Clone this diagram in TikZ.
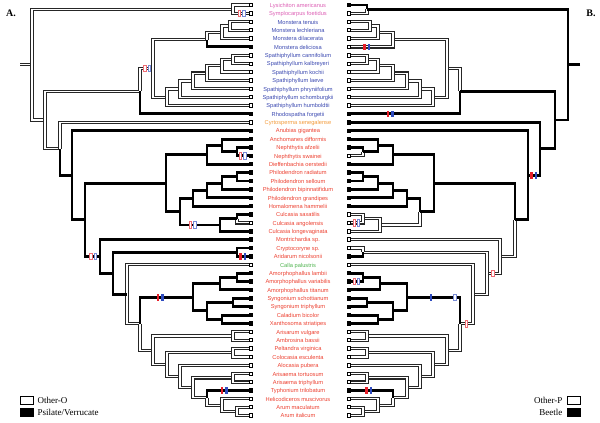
\documentclass[tikz,border=0pt]{standalone}
\usepackage{fontspec}
\setmainfont{Liberation Serif}
\newfontfamily\taxfont{Liberation Sans}
\usetikzlibrary{
    calc,
    positioning
}

\definecolor{oroncol}{HTML}{DC5FB4}
\definecolor{monscol}{HTML}{3A48B0}
\definecolor{cyrtcol}{HTML}{F29A3A}
\definecolor{arumcol}{HTML}{EC4030}
\definecolor{callcol}{HTML}{4FB34F}
\definecolor{gainred}{HTML}{E8202A}
\definecolor{gainblue}{HTML}{2F4CC0}

% one clade: prefix, name, depth, first child, second child
\newcommand{\mkclade}[5]{%
    \path ($(#1#4)!0.5!(#1#5)$) coordinate (#1#2m)
          (#3,0) coordinate (#1#2x);
    \coordinate (#1#2) at (#1#2x |- #1#2m);
}

% change marker: name, style, x, branch end
\newcommand{\chg}[4]{%
    \path (#3,0) coordinate (#1x);
    \node[#2] (#1) at (#1x |- #4) {};
}

% all tips and clades of the tree, with a prefix
\newcommand{\mktree}[1]{%
    \foreach \n [count=\i] in {lys,sym,mten,mlec,mdil,mdel,scan,skal,skoc,
        slae,sphr,ssch,shum,rho,cyr,anu,anc,nafz,nswa,die,prad,psel,pbip,
        pgra,hom,csax,cang,clon,mon,cry,ari,cal,alam,avar,atit,ssco,stri,
        cbic,xan,arisa,amb,pel,col,alo,ator,atri,typ,hel,amac,aita}
        \coordinate (#1\n) at (251,{5+(\i-1)*8.38});
    % Orontioideae
    \mkclade{#1}{orn}{233}{lys}{sym}
    % Monstera / Spathiphyllum
    \mkclade{#1}{mon1}{230}{mten}{mlec}
    \mkclade{#1}{mon2}{222}{mon1}{mdil}
    \mkclade{#1}{mon3}{207}{mon2}{mdel}
    \mkclade{#1}{spa1}{233}{scan}{skal}
    \mkclade{#1}{spa2}{222}{spa1}{skoc}
    \mkclade{#1}{spa3}{207}{spa2}{slae}
    \mkclade{#1}{spa4}{193}{spa3}{sphr}
    \mkclade{#1}{spa5}{180}{spa4}{ssch}
    \mkclade{#1}{spa6}{167}{spa5}{shum}
    \mkclade{#1}{mst}{153}{mon3}{spa6}
    \mkclade{#1}{mrh}{140}{mst}{rho}
    % Nephthytis / Philodendron / Culcasia
    \mkclade{#1}{nep}{237}{nafz}{nswa}
    \mkclade{#1}{anc1}{222}{anc}{nep}
    \mkclade{#1}{anc2}{207}{anc1}{die}
    \mkclade{#1}{phi1}{237}{prad}{psel}
    \mkclade{#1}{phi2}{222}{phi1}{pbip}
    \mkclade{#1}{phi3}{207}{phi2}{pgra}
    \mkclade{#1}{phi4}{193}{phi3}{hom}
    \mkclade{#1}{cul1}{237}{csax}{cang}
    \mkclade{#1}{cul2}{220}{cul1}{clon}
    \mkclade{#1}{phc}{180}{phi4}{cul2}
    \mkclade{#1}{anph}{166}{anc2}{phc}
    % Cryptocoryne to Arum
    \mkclade{#1}{cra}{237}{cry}{ari}
    \mkclade{#1}{amo1}{237}{alam}{avar}
    \mkclade{#1}{amo2}{220}{amo1}{atit}
    \mkclade{#1}{syn}{233}{ssco}{stri}
    \mkclade{#1}{cxa}{222}{cbic}{xan}
    \mkclade{#1}{sycx}{207}{syn}{cxa}
    \mkclade{#1}{ams}{193}{amo2}{sycx}
    \mkclade{#1}{arsa}{233}{arisa}{amb}
    \mkclade{#1}{pco}{233}{pel}{col}
    \mkclade{#1}{ars}{233}{ator}{atri}
    \mkclade{#1}{arum}{237}{amac}{aita}
    \mkclade{#1}{ahel}{222}{hel}{arum}
    \mkclade{#1}{ty1}{207}{typ}{ahel}
    \mkclade{#1}{ty2}{193}{ars}{ty1}
    \mkclade{#1}{ty3}{180}{alo}{ty2}
    \mkclade{#1}{ty4}{167}{pco}{ty3}
    \mkclade{#1}{ty5}{153}{arsa}{ty4}
    \mkclade{#1}{late}{140}{ams}{ty5}
    \mkclade{#1}{cala}{127}{cal}{late}
    \mkclade{#1}{crc}{113}{cra}{cala}
    \mkclade{#1}{mnt}{100}{mon}{crc}
    % backbone
    \mkclade{#1}{aro}{85}{anph}{mnt}
    \mkclade{#1}{anb}{72}{anu}{aro}
    \mkclade{#1}{cyn}{60}{cyr}{anb}
    \mkclade{#1}{core}{45}{mrh}{cyn}
    \mkclade{#1}{root}{32}{orn}{core}
    \path (20,0) coordinate (#1stubx);
    \coordinate (#1stub) at (#1stubx |- #1root);
}

\begin{document}
\begin{tikzpicture}[
    x=1pt,
    y=-1pt,
    obr/.style={draw=black!85, line width=1.05pt, double=white, double distance=1.15pt},
    bbr/.style={draw=black, line width=2.9pt},
    otip/.style={draw=black, fill=white, line width=0.9pt, minimum size=3.4pt, inner sep=0pt},
    btip/.style={draw=black, fill=black, line width=0.9pt, minimum size=3.4pt, inner sep=0pt},
    mk/.style={minimum width=2.8pt, minimum height=6.5pt, inner sep=0pt},
    rfill/.style={mk, fill=gainred},
    bfill/.style={mk, fill=gainblue},
    ropen/.style={mk, fill=white, draw=gainred!65, line width=0.9pt},
    bopen/.style={mk, fill=white, draw=gainblue!65, line width=0.9pt},
    taxon/.style={font=\taxfont\fontsize{5.7}{6}\selectfont, inner sep=0pt, anchor=mid},
    legbox/.style={draw=black, line width=0.9pt, minimum width=13pt, minimum height=7.5pt, inner sep=0pt},
    legtext/.style={font=\fontsize{9}{10}\selectfont, inner sep=0pt}
]

\useasboundingbox (0,0) rectangle (600,423);

% -------------------------------------------------
% Coordinates of both trees (B is the mirror of A)
% -------------------------------------------------

\mktree{A}
\begin{scope}[xshift=600pt, xscale=-1]
    \mktree{B}
\end{scope}

% -------------------------------------------------
% Tree A: pollen exine
% -------------------------------------------------

\draw[obr] (Astub) -- (Aroot);

\foreach \p/\q in {root/orn, root/core, core/mrh, mrh/mst, mst/mon3,
        mon3/mon2, mon2/mon1, mst/spa6, spa6/spa5, spa5/spa4, spa4/spa3,
        spa3/spa2, spa2/spa1, core/cyn, cala/late, late/ty5, ty5/arsa,
        ty5/ty4, ty4/pco, ty4/ty3, ty3/ty2, ty2/ars, ty2/ty1, ty1/ahel,
        ahel/arum}
    \draw[obr] (A\p) |- (A\q);

\foreach \p/\q in {orn/lys, orn/sym, mon1/mten, mon1/mlec, mon2/mdil,
        spa1/scan, spa1/skal, spa2/skoc, spa3/slae, spa4/sphr, spa5/ssch,
        spa6/shum, cyn/cyr, cul1/cang, cala/cal, arsa/arisa, arsa/amb,
        pco/pel, pco/col, ty3/alo, ars/ator, ars/atri, ahel/hel,
        arum/amac, arum/aita}
    \draw[obr] (A\p) |- (A\q) node[otip] (A\q-tip) {};

\foreach \p/\q in {cyn/anb, anb/aro, aro/anph, aro/mnt, anph/anc2,
        anc2/anc1, anc1/nep, anph/phc, phc/phi4, phi4/phi3, phi3/phi2,
        phi2/phi1, phc/cul2, cul2/cul1, mnt/crc, crc/cra, crc/cala,
        late/ams, ams/amo2, amo2/amo1, ams/sycx, sycx/syn, sycx/cxa}
    \draw[bbr] (A\p) |- (A\q);

\foreach \p/\q in {mrh/rho, mon3/mdel, anb/anu, anc1/anc, nep/nafz,
        nep/nswa, anc2/die, phi1/prad, phi1/psel, phi2/pbip, phi3/pgra,
        phi4/hom, cul1/csax, cul2/clon, mnt/mon, cra/cry, cra/ari,
        amo1/alam, amo1/avar, amo2/atit, syn/ssco, syn/stri, cxa/cbic,
        cxa/xan, ty1/typ}
    \draw[bbr] (A\p) |- (A\q) node[btip] (A\q-tip) {};

% changes on tree A
\chg{Ac1r}{ropen}{239.5}{Asym}
\chg{Ac1b}{bopen}{244}{Asym}
\chg{Ac2r}{ropen}{145}{Amst}
\chg{Ac2b}{bopen}{149.5}{Amst}
\chg{Ac3r}{ropen}{240.5}{Answa}
\chg{Ac3b}{bopen}{245}{Answa}
\chg{Ac4r}{ropen}{190.5}{Acul2}
\chg{Ac4b}{bopen}{195}{Acul2}
\chg{Ac5r}{ropen}{91}{Amnt}
\chg{Ac5b}{bopen}{95.5}{Amnt}
\chg{Ac6r}{rfill}{240.5}{Aari}
\chg{Ac6b}{bfill}{245}{Aari}
\chg{Ac7r}{rfill}{158}{Aams}
\chg{Ac7b}{bfill}{162.5}{Aams}
\chg{Ac8r}{rfill}{222}{Atyp}
\chg{Ac8b}{bfill}{226.5}{Atyp}

% -------------------------------------------------
% Tree B: pollinators
% -------------------------------------------------

\draw[bbr] (Bstub) -- (Broot);

\foreach \p/\q in {mrh/mst, mst/mon3, mon3/mon2, mon2/mon1, mst/spa6,
        spa6/spa5, spa5/spa4, spa4/spa3, spa3/spa2, spa2/spa1, phc/cul2,
        cul2/cul1, aro/mnt, mnt/crc, crc/cra, crc/cala, cala/late,
        late/ty5, ty5/arsa, ty5/ty4, ty4/pco, ty4/ty3, ty3/ty2, ty2/ars,
        ty2/ty1, ty1/ahel, ahel/arum}
    \draw[obr] (B\p) |- (B\q);

\foreach \p/\q in {orn/sym, mon1/mten, mon1/mlec, mon2/mdil, mon3/mdel,
        spa1/scan, spa1/skal, spa2/skoc, spa3/slae, spa4/sphr, spa5/ssch,
        spa6/shum, nep/nswa, cul1/csax, cul1/cang, cul2/clon, mnt/mon,
        cra/cry, cala/cal, arsa/arisa, arsa/amb, pco/pel, pco/col,
        ty3/alo, ars/ator, ars/atri, ahel/hel, arum/amac, arum/aita}
    \draw[obr] (B\p) |- (B\q) node[otip] (B\q-tip) {};

\foreach \p/\q in {root/orn, root/core, core/mrh, core/cyn, cyn/anb,
        anb/aro, aro/anph, anph/anc2, anc2/anc1, anc1/nep, anph/phc,
        phc/phi4, phi4/phi3, phi3/phi2, phi2/phi1, late/ams, ams/amo2,
        amo2/amo1, ams/sycx, sycx/syn, sycx/cxa}
    \draw[bbr] (B\p) |- (B\q);

\foreach \p/\q in {orn/lys, mrh/rho, cyn/cyr, anb/anu, anc1/anc,
        nep/nafz, anc2/die, phi1/prad, phi1/psel, phi2/pbip, phi3/pgra,
        phi4/hom, cra/ari, amo1/alam, amo1/avar, amo2/atit, syn/ssco,
        syn/stri, cxa/cbic, cxa/xan, ty1/typ}
    \draw[bbr] (B\p) |- (B\q) node[btip] (B\q-tip) {};

% changes on tree B
\chg{Bc1r}{rfill}{364.5}{Bmdel}
\chg{Bc1b}{bfill}{369}{Bmdel}
\chg{Bc2r}{rfill}{388}{Brho}
\chg{Bc2b}{bfill}{392.5}{Brho}
\chg{Bc3r}{rfill}{531.5}{Banb}
\chg{Bc3b}{bfill}{536}{Banb}
\chg{Bc4r}{ropen}{354.5}{Bcang}
\chg{Bc4b}{bopen}{358.5}{Bcang}
\chg{Bc5r}{ropen}{354.5}{Bavar}
\chg{Bc5b}{bopen}{358.5}{Bavar}
\chg{Bc6r}{rfill}{366.5}{Btyp}
\chg{Bc6b}{bfill}{371}{Btyp}
\chg{Bc7r}{ropen}{493}{Bcrc}
\chg{Bc8r}{ropen}{466.5}{Blate}
\chg{Bc9b}{bfill}{431}{Bams}
\chg{Bc10b}{bopen}{455}{Bams}

% -------------------------------------------------
% Taxon names
% -------------------------------------------------

\foreach \tx/\col [count=\i] in {
        Lysichiton americanus/oroncol, Symplocarpus foetidus/oroncol,
        Monstera tenuis/monscol, Monstera lechleriana/monscol,
        Monstera dilacerata/monscol, Monstera deliciosa/monscol,
        Spathiphyllum cannifolium/monscol, Spathiphyllum kalbreyeri/monscol,
        Spathiphyllum kochii/monscol, Spathiphyllum laeve/monscol,
        Spathiphyllum phryniifolium/monscol, Spathiphyllum schomburgkii/monscol,
        Spathiphyllum humboldtii/monscol, Rhodospatha forgetii/monscol,
        Cyrtosperma senegalense/cyrtcol, Anubias gigantea/arumcol,
        Anchomanes difformis/arumcol, Nephthytis afzelii/arumcol,
        Nephthytis swainei/arumcol, Dieffenbachia oerstedii/arumcol,
        Philodendron radiatum/arumcol, Philodendron selloum/arumcol,
        Philodendron bipinnatifidum/arumcol, Philodendron grandipes/arumcol,
        Homalomena hammelii/arumcol, Culcasia saxatilis/arumcol,
        Culcasia angolensis/arumcol, Culcasia longevaginata/arumcol,
        Montrichardia sp./arumcol, Cryptocoryne sp./arumcol,
        Aridarum nicolsonii/arumcol, Calla palustris/callcol,
        Amorphophallus lambii/arumcol, Amorphophallus variabilis/arumcol,
        Amorphophallus titanum/arumcol, Syngonium schottianum/arumcol,
        Syngonium triphyllum/arumcol, Caladium bicolor/arumcol,
        Xanthosoma striatipes/arumcol, Arisarum vulgare/arumcol,
        Ambrosina bassii/arumcol, Peltandra virginica/arumcol,
        Colocasia esculenta/arumcol, Alocasia pubera/arumcol,
        Arisaema tortuosum/arumcol, Arisaema triphyllum/arumcol,
        Typhonium trilobatum/arumcol, Helicodiceros muscivorus/arumcol,
        Arum maculatum/arumcol, Arum italicum/arumcol}
    \node[taxon, text=\col] (tx\i) at (298,{5+(\i-1)*8.38}) {\tx};

% -------------------------------------------------
% Panel letters and keys
% -------------------------------------------------

\node[font=\bfseries\fontsize{10}{12}\selectfont] (panA) at (11,13) {A.};
\node[font=\bfseries\fontsize{10}{12}\selectfont] (panB) at (591,13) {B.};

\node[legbox, fill=white] (keyO) at (26.5,400.5) {};
\node[legtext, right=4pt of keyO] (keyOt) {Other-O};
\node[legbox, fill=black] (keyPV) at (26.5,412.5) {};
\node[legtext, right=4pt of keyPV] (keyPVt) {Psilate/Verrucate};

\node[legbox, fill=white] (keyP) at (573.5,400.5) {};
\node[legtext, left=4pt of keyP] (keyPt) {Other-P};
\node[legbox, fill=black] (keyB) at (573.5,412.5) {};
\node[legtext, left=4pt of keyB] (keyBt) {Beetle};

\end{tikzpicture}
\end{document}
